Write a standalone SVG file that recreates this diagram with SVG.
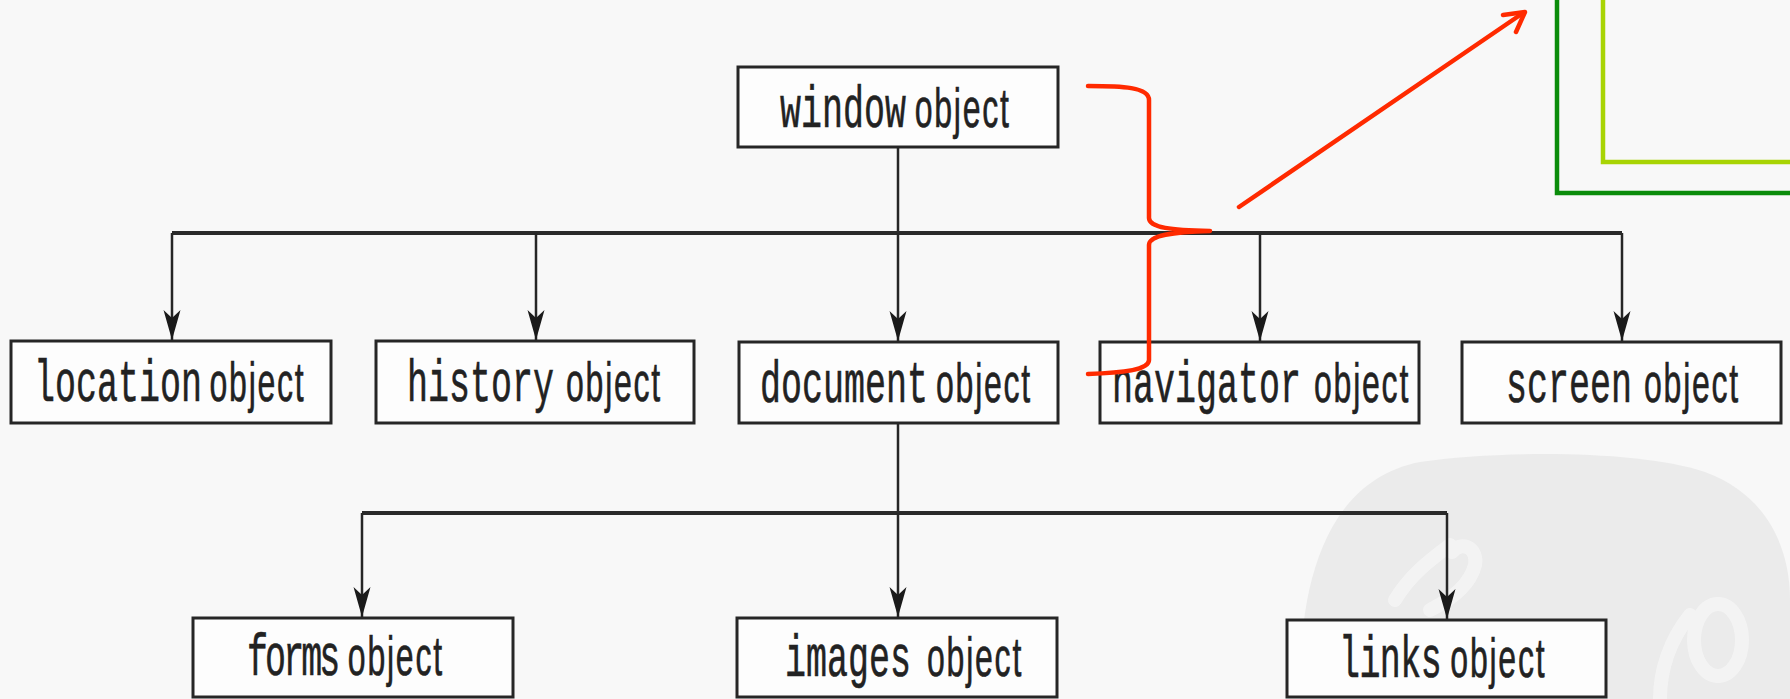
<svg xmlns="http://www.w3.org/2000/svg" width="1790" height="699" viewBox="0 0 1790 699">
  <style>
    .box { fill: #fdfdfd; stroke: #262626; stroke-width: 3; }
    .lbl { fill: #222222; stroke: #222222; stroke-width: 0.6; }
    .mono { font-family: "Liberation Mono", "DejaVu Sans Mono", monospace; font-size: 60px; }
    .sans { font-family: "Liberation Sans", Arial, sans-serif; font-size: 55px; letter-spacing: 3px; }
    .wire { fill: none; stroke: #262626; stroke-width: 2.5; }
    .bus { fill: none; stroke: #2a2a2a; stroke-width: 4; }
    .red { fill: none; stroke: #ff2a00; stroke-width: 4.5; stroke-linecap: round; stroke-linejoin: round; }
  </style>
  <defs>
    <marker id="ah" markerUnits="userSpaceOnUse" viewBox="-31 -10 32 20" refX="0" refY="0" markerWidth="32" markerHeight="20" orient="auto">
      <path d="M0,0 L-30,-8.5 L-22,0 L-30,8.5 Z" fill="#1a1a1a"/>
    </marker>
  </defs>

  <rect x="0" y="0" width="1790" height="699" fill="#f8f8f8"/>

  <!-- watermark -->
  <g id="watermark">
    <path d="M1300,699 C1298,600 1318,482 1420,462 C1500,450 1640,450 1705,472 C1765,494 1790,545 1790,600 L1790,699 Z" fill="#ebebeb"/>
    <g fill="none" stroke="#f6f6f6" stroke-width="14" stroke-linecap="round" opacity="0.8">
      <path d="M1395,600 C1410,575 1430,560 1450,545"/>
      <path d="M1430,610 C1450,600 1470,585 1475,565 C1478,548 1462,540 1452,552"/>
      <ellipse cx="1718" cy="640" rx="24" ry="36"/>
      <path d="M1660,699 C1660,670 1670,640 1690,615"/>
    </g>
  </g>

  <!-- annotation frames -->
  <g id="frames" fill="none" stroke-width="4.5">
    <path d="M1557,-5 V193 H1795" stroke="#0a8c0a"/>
    <path d="M1603,-5 V162 H1795" stroke="#a8d404"/>
  </g>

  <!-- connectors -->
  <g id="connectors">
    <path class="wire" d="M898,147 V233"/>
    <path class="bus" d="M172,233 H1622"/>
    <path class="wire" d="M172,233 V340" marker-end="url(#ah)"/>
    <path class="wire" d="M536,233 V340" marker-end="url(#ah)"/>
    <path class="wire" d="M898,233 V341" marker-end="url(#ah)"/>
    <path class="wire" d="M1260,233 V341" marker-end="url(#ah)"/>
    <path class="wire" d="M1622,233 V341" marker-end="url(#ah)"/>
    <path class="wire" d="M898,423 V513"/>
    <path class="bus" d="M362,513 H1447"/>
    <path class="wire" d="M362,513 V617" marker-end="url(#ah)"/>
    <path class="wire" d="M898,513 V617" marker-end="url(#ah)"/>
    <path class="wire" d="M1447,513 V619" marker-end="url(#ah)"/>
  </g>

  <!-- nodes -->
  <g id="window">
    <rect class="box" x="738" y="67" width="320" height="80"/>
    <text class="lbl" transform="translate(780,127) scale(0.583,1)"><tspan class="mono" x="0">window</tspan><tspan class="sans" x="231">object</tspan></text>
  </g>
  <g id="location">
    <rect class="box" x="11" y="341" width="320" height="82"/>
    <text class="lbl" transform="translate(34,401) scale(0.583,1)"><tspan class="mono" x="0">location</tspan><tspan class="sans" x="301">object</tspan></text>
  </g>
  <g id="history">
    <rect class="box" x="376" y="341" width="318" height="82"/>
    <text class="lbl" transform="translate(407,401) scale(0.583,1)"><tspan class="mono" x="0">history</tspan><tspan class="sans" x="272.7">object</tspan></text>
  </g>
  <g id="document">
    <rect class="box" x="739" y="342" width="319" height="81"/>
    <text class="lbl" transform="translate(760,402) scale(0.583,1)"><tspan class="mono" x="0">document</tspan><tspan class="sans" x="301.9">object</tspan></text>
  </g>
  <g id="navigator">
    <rect class="box" x="1100" y="342" width="319" height="81"/>
    <text class="lbl" transform="translate(1112,402) scale(0.583,1)"><tspan class="mono" x="0">navigator</tspan><tspan class="sans" x="346.5">object</tspan></text>
  </g>
  <g id="screen">
    <rect class="box" x="1462" y="342" width="319" height="81"/>
    <text class="lbl" transform="translate(1506,402) scale(0.583,1)"><tspan class="mono" x="0">screen</tspan><tspan class="sans" x="236.7">object</tspan></text>
  </g>
  <g id="forms">
    <rect class="box" x="193" y="618" width="320" height="79"/>
    <text class="lbl" transform="translate(247,675) scale(0.583,1)"><tspan class="mono" x="0" letter-spacing="-5">forms</tspan><tspan class="sans" x="173" letter-spacing="6">object</tspan></text>
  </g>
  <g id="images">
    <rect class="box" x="737" y="618" width="320" height="79"/>
    <text class="lbl" transform="translate(785,676) scale(0.583,1)"><tspan class="mono" x="0">images</tspan><tspan class="sans" x="243.6" letter-spacing="1">object</tspan></text>
  </g>
  <g id="links">
    <rect class="box" x="1287" y="620" width="319" height="77"/>
    <text class="lbl" transform="translate(1339,677) scale(0.583,1)"><tspan class="mono" x="0" letter-spacing="-1">links</tspan><tspan class="sans" x="191">object</tspan></text>
  </g>

  <!-- red annotation -->
  <g id="annotation">
    <path class="red" d="M1088,86 C1122,86 1149,87 1149,100 L1149,218 C1149,228 1172,230 1210,231 C1172,232 1149,235 1149,245 L1149,360 C1149,370 1122,373 1088,374"/>
    <path class="red" d="M1239,207 L1523,13"/>
    <path class="red" d="M1503,15 L1525,12 L1516,32"/>
  </g>
</svg>
